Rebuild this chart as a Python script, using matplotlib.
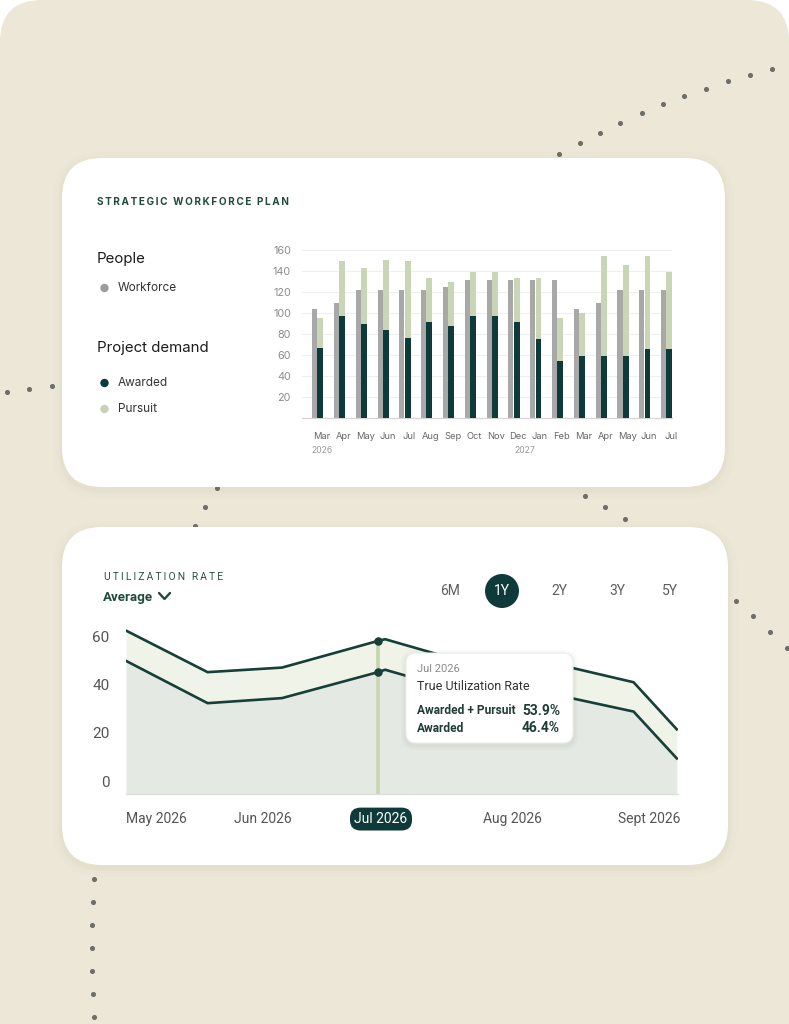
import numpy as np
import matplotlib
matplotlib.use("Agg")
import matplotlib.pyplot as plt
from matplotlib.patches import FancyBboxPatch, Circle
from matplotlib.lines import Line2D

# ---- data: strategic workforce plan (bar chart)
months = ["Mar", "Apr", "May", "Jun", "Jul", "Aug", "Sep", "Oct", "Nov",
          "Dec", "Jan", "Feb", "Mar", "Apr", "May", "Jun", "Jul"]
workforce = [104, 110, 122, 122, 122, 122, 125, 131, 131, 131, 131, 131, 104, 110, 122, 122, 122]
awarded = [67, 97, 90, 84, 76, 91, 88, 97, 97, 91, 75, 54, 59, 59, 59, 66, 66]
demand_total = [95, 150, 143, 150, 150, 133, 130, 139, 139, 133, 133, 95, 100, 154, 146, 154, 139]
pursuit = [t - a for t, a in zip(demand_total, awarded)]
bar_yticks = [20, 40, 60, 80, 100, 120, 140, 160]

# ---- data: utilization rate (line chart), x in month units from the chart's left edge
util_x = [0.0, 0.68, 1.30, 2.10, 2.16, 2.62, 3.45, 4.23, 4.59]
util_total = [62.6, 45.3, 47.2, 58.3, 59.0, 52.4, 50.2, 41.1, 21.5]
util_awarded = [50.0, 32.4, 34.5, 45.3, 46.3, 39.7, 37.3, 28.9, 9.4]
util_tick_pos = [0.25, 1.14, 2.125, 3.22, 4.36]
util_tick_labels = ["May 2026", "Jun 2026", "Jul 2026", "Aug 2026", "Sept 2026"]
util_yticks = [0, 20, 40, 60]
sel_x = 2.10
periods = ["6M", "1Y", "2Y", "3Y", "5Y"]

# ---- colours
BEIGE = "#ECE7D6"
DARK = "#0E3B39"
LIGHT_GREEN = "#C9D5B4"
GRAY_BAR = "#A8A8A8"
TITLE_GREEN = "#1F4A3C"
LINE = "#163F38"

W, H = 789, 1024
fig = plt.figure(figsize=(W / 100, H / 100), dpi=100)
fig.patch.set_facecolor("white")


def fx(x):
    return x / W


def fy(y):
    return 1 - y / H


def spaced(s):
    return "\u2009".join(s)


# background layer in pixel coordinates
bg = fig.add_axes([0, 0, 1, 1], zorder=0)
bg.set_xlim(0, W)
bg.set_ylim(H, 0)
bg.axis("off")
bg.add_patch(FancyBboxPatch((0, 0), W, H + 60, boxstyle="round,pad=0,rounding_size=42",
                            fc=BEIGE, ec="none"))

deco_dots = [(558.6, 154), (579.8, 143), (600, 132.7), (620.5, 122.7), (641.6, 113.3),
             (663.3, 104.3), (684.4, 96.3), (706.1, 88.7), (728.2, 81.3), (749.9, 74.7),
             (772, 69), (6.7, 392.3), (29.3, 389), (52, 386.3), (217, 487.7), (205.3, 507),
             (194.7, 525.7), (585, 495.7), (605, 507.3), (624.7, 519), (735.7, 600.7),
             (753, 616), (770, 631.7), (786.7, 647.7), (94, 879), (92.7, 902), (92, 925),
             (91.7, 948), (92, 971), (92.7, 994), (94, 1017)]
bg.scatter([d[0] for d in deco_dots], [d[1] for d in deco_dots], s=7, color="#6E6E68", zorder=1)

cards = [(62, 158, 663, 329), (62, 527, 666, 338)]
for (x0, y0, w, h) in cards:
    for k, a in [(9, 0.012), (5, 0.02), (2.5, 0.03)]:
        bg.add_patch(FancyBboxPatch((x0 - k, y0 - k + 3), w + 2 * k, h + 2 * k,
                                    boxstyle="round,pad=0,rounding_size=%g" % (40 + k),
                                    fc="#8A8470", ec="none", alpha=a, zorder=2))
    bg.add_patch(FancyBboxPatch((x0, y0), w, h, boxstyle="round,pad=0,rounding_size=40",
                                fc="white", ec="none", zorder=3))

TOP_FONT = ["Inter", "DejaVu Sans"]
LOW_FONT = ["Roboto", "DejaVu Sans"]

# ---- top card: left legend panel
fig.text(fx(97), fy(202), spaced("STRATEGIC WORKFORCE PLAN"), family=TOP_FONT,
         fontsize=7.2, weight="bold", color=TITLE_GREEN, va="center")
fig.text(fx(97), fy(259), "People", family=TOP_FONT, fontsize=10.8, color="#1B1B1B", va="center")
fig.text(fx(97), fy(348), "Project demand", family=TOP_FONT, fontsize=10.8, color="#1B1B1B", va="center")
legend_items = [("Workforce", "#9C9C9C", 288), ("Awarded", DARK, 383), ("Pursuit", "#C9D1BA", 409)]
for name, col, yy in legend_items:
    bg.add_patch(Circle((104.5, yy), 4.2, fc=col, ec="none", zorder=4))
    fig.text(fx(118), fy(yy), name, family=TOP_FONT, fontsize=8.5, color="#333333", va="center")

# ---- top card: bar chart
ax1 = fig.add_axes([fx(302), fy(418), fx(672 - 302), (418 - 250) / H], zorder=1)
ax1.patch.set_alpha(0)
idx = np.arange(len(months))
ax1.bar(idx - 0.125, workforce, width=0.23, color=GRAY_BAR, zorder=2)
ax1.bar(idx + 0.135, awarded, width=0.27, color=DARK, zorder=3)
ax1.bar(idx + 0.135, pursuit, bottom=awarded, width=0.27, color=LIGHT_GREEN, zorder=3)
ax1.set_xlim(-0.71, 16.26)
ax1.set_ylim(0, 160)
ax1.set_yticks(bar_yticks)
ax1.set_yticklabels([str(v) for v in bar_yticks], family=TOP_FONT, fontsize=7.8, color="#8C8C8C")
ax1.yaxis.grid(True, color="#EFEFEF", lw=0.8, zorder=0)
ax1.tick_params(axis="y", length=0, pad=8)
ax1.set_xticks(idx + 0.2)
ax1.set_xticklabels(months, family=TOP_FONT, fontsize=6.7, color="#666666")
ax1.tick_params(axis="x", length=0, pad=10)
for s in ["top", "right", "left"]:
    ax1.spines[s].set_visible(False)
ax1.spines["bottom"].set_color("#D5D5D5")
ax1.spines["bottom"].set_linewidth(0.9)
ax1.text(0.2, -31, "2026", ha="center", va="center", family=TOP_FONT, fontsize=6.2, color="#9A9A9A")
ax1.text(9.5, -31, "2027", ha="center", va="center", family=TOP_FONT, fontsize=6.2, color="#9A9A9A")

# ---- bottom card: header and period selector
fig.text(fx(104), fy(577), spaced("UTILIZATION RATE"), family=LOW_FONT, fontsize=7.4,
         color="#2E4F46", va="center")
fig.text(fx(103), fy(597), "Average", family=LOW_FONT, fontsize=9.6, weight="bold",
         color=TITLE_GREEN, va="center")
bg.add_line(Line2D([159, 164.5, 170], [593, 599, 593], color=TITLE_GREEN, lw=1.7,
                   solid_capstyle="round", solid_joinstyle="round", zorder=4))
period_x = [450, 502, 559, 617, 670]
for lab, px in zip(periods, period_x):
    if lab == "1Y":
        bg.add_patch(Circle((px, 591), 17, fc=DARK, ec="none", zorder=4))
        fig.text(fx(px), fy(591), lab, family=LOW_FONT, fontsize=10, color="white",
                 ha="center", va="center")
    else:
        fig.text(fx(px), fy(591), lab, family=LOW_FONT, fontsize=10, color="#5E5E5E",
                 ha="center", va="center")

# ---- bottom card: line chart
ax2 = fig.add_axes([fx(126), fy(794), fx(678 - 126), (794 - 620) / H], zorder=1)
ax2.patch.set_alpha(0)
ax2.set_xlim(0, 4.6)
ax2.set_ylim(-5.4, 67)
ax2.fill_between(util_x, -5.4, util_awarded, color="#E5E9E3", lw=0, zorder=1)
ax2.fill_between(util_x, util_awarded, util_total, color="#F0F3E8", lw=0, zorder=1)
sel_total = np.interp(sel_x, util_x, util_total)
sel_awarded = np.interp(sel_x, util_x, util_awarded)
ax2.plot([sel_x, sel_x], [-5.4, sel_total], color="#C7D4B0", lw=2.6, zorder=2)
ax2.plot(util_x, util_total, color=LINE, lw=1.9, zorder=3, solid_joinstyle="miter")
ax2.plot(util_x, util_awarded, color=LINE, lw=1.9, zorder=3, solid_joinstyle="miter")
ax2.scatter([sel_x, sel_x], [sel_total, sel_awarded], s=26, color=LINE, zorder=4)
ax2.set_yticks(util_yticks)
ax2.set_yticklabels([str(v) for v in util_yticks], family=LOW_FONT, fontsize=11, color="#555555")
ax2.tick_params(axis="y", length=0, pad=12)
ax2.set_xticks(util_tick_pos)
ax2.set_xticklabels(util_tick_labels, family=LOW_FONT, fontsize=10, color="#555555")
ax2.tick_params(axis="x", length=0, pad=13)
for lab in ax2.get_xticklabels():
    if lab.get_text() == "Jul 2026":
        lab.set_color("white")
        lab.set_bbox(dict(boxstyle="round,pad=0.32,rounding_size=0.75", fc=DARK, ec="none"))
for s in ["top", "right", "left"]:
    ax2.spines[s].set_visible(False)
ax2.spines["bottom"].set_color("#DDE0DA")
ax2.spines["bottom"].set_linewidth(1)

# ---- tooltip overlay
ov = fig.add_axes([0, 0, 1, 1], zorder=3)
ov.set_xlim(0, W)
ov.set_ylim(H, 0)
ov.axis("off")
ov.patch.set_alpha(0)
for k, a in [(5, 0.03), (2.5, 0.05)]:
    ov.add_patch(FancyBboxPatch((406 - k, 653 - k + 2), 167 + 2 * k, 90 + 2 * k,
                                boxstyle="round,pad=0,rounding_size=%g" % (10 + k),
                                fc="#55604F", ec="none", alpha=a))
ov.add_patch(FancyBboxPatch((406, 653), 167, 90, boxstyle="round,pad=0,rounding_size=10",
                            fc="white", ec="#ECEEEA", lw=0.8))
ov.text(417, 669, "Jul 2026", family=LOW_FONT, fontsize=8, color="#8A8A8A", va="center")
ov.text(417, 686, "True Utilization Rate", family=LOW_FONT, fontsize=9, color="#333333", va="center")
ov.text(417, 711, "Awarded + Pursuit", family=LOW_FONT, fontsize=8.6, weight="bold",
        color="#1E3D36", va="center")
ov.text(560, 711, "%.1f%%" % 53.9, family=LOW_FONT, fontsize=10, weight="bold",
        color="#1E3D36", va="center", ha="right")
ov.text(417, 728, "Awarded", family=LOW_FONT, fontsize=8.6, weight="bold",
        color="#1E3D36", va="center")
ov.text(560, 728, "%.1f%%" % 46.4, family=LOW_FONT, fontsize=10, weight="bold",
        color="#1E3D36", va="center", ha="right")

fig.savefig("out.png", dpi=100)
